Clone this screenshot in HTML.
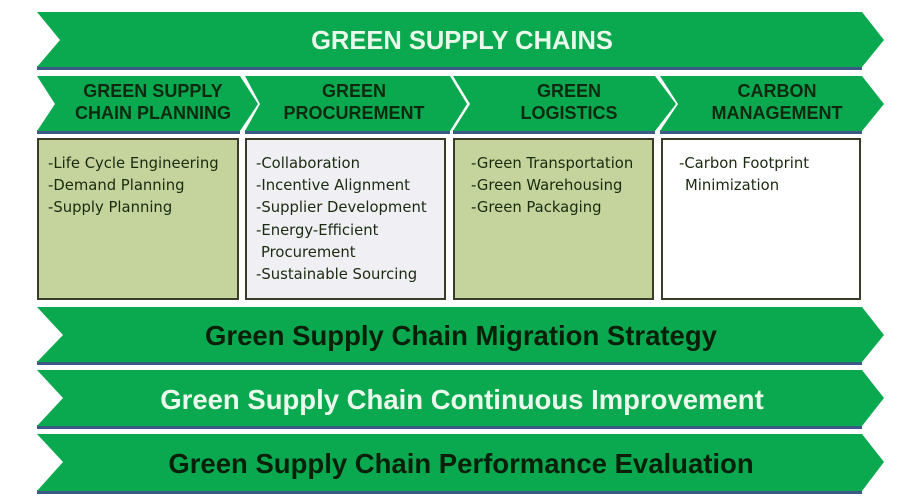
<!DOCTYPE html>
<html><head><meta charset="utf-8"><style>
html,body{margin:0;padding:0;background:#fff;}
svg{display:block;}
text{font-family:"Liberation Sans",sans-serif;font-weight:bold;}
.s{font-family:"DejaVu Sans","Liberation Sans",sans-serif;font-weight:normal;font-size:14.8px;fill:#1a2a10;}
</style></head><body>
<svg width="900" height="500" viewBox="0 0 900 500" xmlns="http://www.w3.org/2000/svg">
<g fill="#3d5a86">
<rect x="37" y="66" width="825" height="4"/>
<rect x="37" y="130" width="203" height="4"/>
<rect x="245" y="130" width="205" height="4"/>
<rect x="453" y="130" width="202" height="4"/>
<rect x="660" y="130" width="202" height="4"/>
<rect x="37" y="361" width="825" height="4"/>
<rect x="37" y="425" width="825" height="4"/>
<rect x="37" y="490" width="825" height="4"/>
</g>
<g fill="#0aa84f">
<polygon points="37,12 862,12 884,40 862,67 37,67 60,40"/>
<polygon points="37,76 240,76 258,104 240,131 37,131 55,104"/>
<polygon points="245,76 450,76 467,104 450,131 245,131 260,104"/>
<polygon points="453,76 655,76 676,104 655,131 453,131 470,104"/>
<polygon points="660,76 862,76 884,104 862,131 660,131 678,104"/>
<polygon points="37,307 862,307 884,335 862,362 37,362 63,335"/>
<polygon points="37,370 862,370 884,398 862,426 37,426 63,398"/>
<polygon points="37,434 862,434 884,462 862,491 37,491 63,462"/>
</g>
<rect x="38" y="139" width="200" height="160" fill="#c5d49c" stroke="#3b3b2a" stroke-width="2"/>
<rect x="246" y="139" width="199" height="160" fill="#f0f0f4" stroke="#3b3b2a" stroke-width="2"/>
<rect x="454" y="139" width="199" height="160" fill="#c5d49c" stroke="#3b3b2a" stroke-width="2"/>
<rect x="662" y="139" width="198" height="160" fill="#ffffff" stroke="#3b3b2a" stroke-width="2"/>
<text x="462" y="49" text-anchor="middle" font-size="25.5" fill="#e8f8ea">GREEN SUPPLY CHAINS</text>
<g font-size="18" fill="#0d2a10" text-anchor="middle">
<text x="153" y="97">GREEN SUPPLY</text><text x="153" y="119">CHAIN PLANNING</text>
<text x="354" y="97">GREEN</text><text x="354" y="119">PROCUREMENT</text>
<text x="569" y="97">GREEN</text><text x="569" y="119">LOGISTICS</text>
<text x="777" y="97">CARBON</text><text x="777" y="119">MANAGEMENT</text>
</g>
<text class="s" x="48" y="168">-Life Cycle Engineering</text>
<text class="s" x="48" y="190">-Demand Planning</text>
<text class="s" x="48" y="212">-Supply Planning</text>
<text class="s" x="256" y="168">-Collaboration</text>
<text class="s" x="256" y="190">-Incentive Alignment</text>
<text class="s" x="256" y="212">-Supplier Development</text>
<text class="s" x="256" y="235">-Energy-Efficient</text>
<text class="s" x="261" y="257">Procurement</text>
<text class="s" x="256" y="279">-Sustainable Sourcing</text>
<text class="s" x="471" y="168">-Green Transportation</text>
<text class="s" x="471" y="190">-Green Warehousing</text>
<text class="s" x="471" y="212">-Green Packaging</text>
<text class="s" x="679" y="168">-Carbon Footprint</text>
<text class="s" x="685" y="190">Minimization</text>
<text x="461" y="345" text-anchor="middle" font-size="27.5" fill="#08200a">Green Supply Chain Migration Strategy</text>
<text x="462" y="409" text-anchor="middle" font-size="27.5" fill="#eaf9ec">Green Supply Chain Continuous Improvement</text>
<text x="461" y="473" text-anchor="middle" font-size="27.5" fill="#08200a">Green Supply Chain Performance Evaluation</text>
</svg>
</body></html>
